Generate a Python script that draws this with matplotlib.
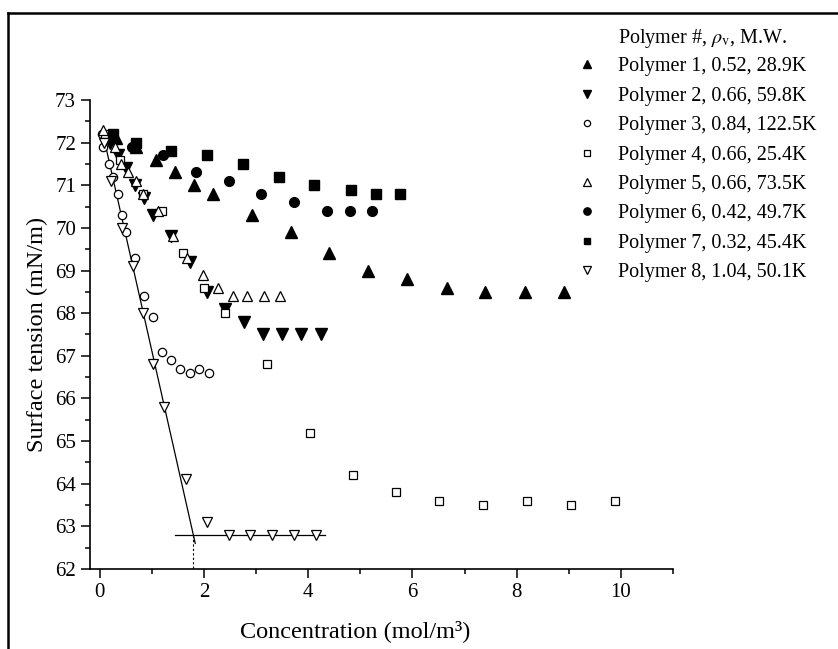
import numpy as np
import matplotlib
matplotlib.use('Agg')
import matplotlib.pyplot as plt
from matplotlib.lines import Line2D

plt.rcParams['font.family'] = ['Liberation Serif', 'DejaVu Serif']
plt.rcParams['mathtext.fontset'] = 'stix'

# data
x1 = [0.3, 0.7, 1.08, 1.45, 1.81, 2.18, 2.91, 3.66, 4.4, 5.15, 5.9, 6.66, 7.4, 8.15, 8.9]
y1 = [72.1, 71.9, 71.6, 71.3, 71.0, 70.8, 70.3, 69.9, 69.4, 69.0, 68.8, 68.6, 68.5, 68.5, 68.5]

x2 = [0.2, 0.35, 0.51, 0.67, 0.85, 1.01, 1.36, 1.72, 2.06, 2.41, 2.77, 3.13, 3.5, 3.86, 4.24]
y2 = [72.0, 71.7, 71.4, 71.0, 70.7, 70.3, 69.8, 69.2, 68.5, 68.1, 67.8, 67.5, 67.5, 67.5, 67.5]

x3 = [0.04, 0.06, 0.17, 0.26, 0.34, 0.43, 0.51, 0.67, 0.85, 1.01, 1.2, 1.36, 1.54, 1.72, 1.91, 2.09]
y3 = [72.2, 71.9, 71.5, 71.2, 70.8, 70.3, 69.9, 69.3, 68.4, 67.9, 67.1, 66.9, 66.7, 66.6, 66.7, 66.6]

x4 = [0.1, 0.38, 0.83, 1.2, 1.59, 2.0, 2.41, 3.2, 4.03, 4.86, 5.68, 6.5, 7.35, 8.19, 9.04, 9.89]
y4 = [72.2, 71.6, 70.8, 70.4, 69.4, 68.6, 68.0, 66.8, 65.2, 64.2, 63.8, 63.6, 63.5, 63.6, 63.5, 63.6]

x5 = [0.06, 0.29, 0.4, 0.54, 0.69, 0.83, 1.12, 1.4, 1.68, 1.97, 2.26, 2.56, 2.83, 3.15, 3.45]
y5 = [72.3, 71.9, 71.5, 71.3, 71.1, 70.8, 70.4, 69.8, 69.3, 68.9, 68.6, 68.4, 68.4, 68.4, 68.4]

x6 = [0.61, 1.21, 1.84, 2.47, 3.1, 3.72, 4.36, 4.8, 5.22]
y6 = [71.9, 71.7, 71.3, 71.1, 70.8, 70.6, 70.4, 70.4, 70.4]

x7 = [0.25, 0.69, 1.36, 2.05, 2.74, 3.43, 4.11, 4.82, 5.29, 5.76]
y7 = [72.2, 72.0, 71.8, 71.7, 71.5, 71.2, 71.0, 70.9, 70.8, 70.8]

x8 = [0.08, 0.22, 0.42, 0.63, 0.82, 1.02, 1.23, 1.65, 2.06, 2.47, 2.89, 3.31, 3.72, 4.15]
y8 = [72.0, 71.1, 70.0, 69.1, 68.0, 66.8, 65.8, 64.1, 63.1, 62.8, 62.8, 62.8, 62.8, 62.8]

labels = ['Polymer 1, 0.52, 28.9K', 'Polymer 2, 0.66, 59.8K', 'Polymer 3, 0.84, 122.5K',
          'Polymer 4, 0.66, 25.4K', 'Polymer 5, 0.66, 73.5K', 'Polymer 6, 0.42, 49.7K',
          'Polymer 7, 0.32, 45.4K', 'Polymer 8, 1.04, 50.1K']

# fitted lines for polymer 8 (CMC construction)
fit_x = [0.05, 1.83]
fit_y = [72.25, 62.6]
plateau_x = [1.45, 4.32]
plateau_y = [62.8, 62.8]
cmc_x = 1.78

fig = plt.figure(figsize=(8.38, 6.49), dpi=100)
ax = fig.add_axes([0.1074, 0.1233, 0.6957, 0.7226])

styles = [
    dict(marker='^', ms=8, mfc='black', mec='black'),
    dict(marker='v', ms=8, mfc='black', mec='black'),
    dict(marker='o', ms=6, mfc='white', mec='black', mew=0.9),
    dict(marker='s', ms=5.2, mfc='white', mec='black', mew=0.9),
    dict(marker='^', ms=7.5, mfc='white', mec='black', mew=0.9),
    dict(marker='o', ms=7, mfc='black', mec='black'),
    dict(marker='s', ms=6.5, mfc='black', mec='black'),
    dict(marker='v', ms=7.5, mfc='white', mec='black', mew=0.9),
]
xs = [x1, x2, x3, x4, x5, x6, x7, x8]
ys = [y1, y2, y3, y4, y5, y6, y7, y8]

ax.plot(fit_x, fit_y, color='black', lw=0.9, zorder=1)
ax.plot(plateau_x, plateau_y, color='black', lw=0.9, zorder=1)
ax.plot([cmc_x, cmc_x], [62.8, 62], color='black', lw=0.8, ls=(0, (2, 2)), zorder=1)

handles = []
for x, y, st, lab in zip(xs, ys, styles, labels):
    h, = ax.plot(x, y, ls='none', label=lab, zorder=3, **st)
    handles.append(h)

ax.set_xlim(-0.19, 11)
ax.set_ylim(62, 73)
ax.set_xticks([0, 2, 4, 6, 8, 10])
ax.set_xticks([1, 3, 5, 7, 9, 11], minor=True)
ax.set_yticks(np.arange(62, 74, 1))
ax.set_yticks(np.arange(62.5, 73, 1), minor=True)

for s in ['top', 'right']:
    ax.spines[s].set_visible(False)
for s in ['left', 'bottom']:
    ax.spines[s].set_linewidth(1.2)

ax.tick_params(which='major', direction='out', length=6.5, width=1.1, labelsize=15)
ax.tick_params(which='minor', direction='out', length=3.5, width=1.1)

ax.set_xlabel('Concentration (mol/m³)', fontsize=17.5)
ax.set_ylabel('Surface tension (mN/m)', fontsize=17.5)
ax.xaxis.set_label_coords(0.455, -0.108)
ax.yaxis.set_label_coords(-0.072, 0.5)

fig.legend(handles=handles, loc='upper left', bbox_to_anchor=(0.679, 0.924),
           frameon=False, fontsize=14.5, markerscale=0.75, handlelength=1.0,
           handletextpad=1.05, labelspacing=0.51, borderaxespad=0)
fig.text(0.7375, 0.940, r'Polymer #, $\rho_\mathrm{v}$, M.W.', fontsize=14.5, va='center', ha='left')

# frame lines at top and left of the figure
fig.add_artist(Line2D([8 / 838, 1], [1 - 13 / 649, 1 - 13 / 649], color='black', lw=1.8))
fig.add_artist(Line2D([8 / 838, 8 / 838], [0, 1 - 13 / 649], color='black', lw=1.8))

fig.savefig('out.png', dpi=100)
